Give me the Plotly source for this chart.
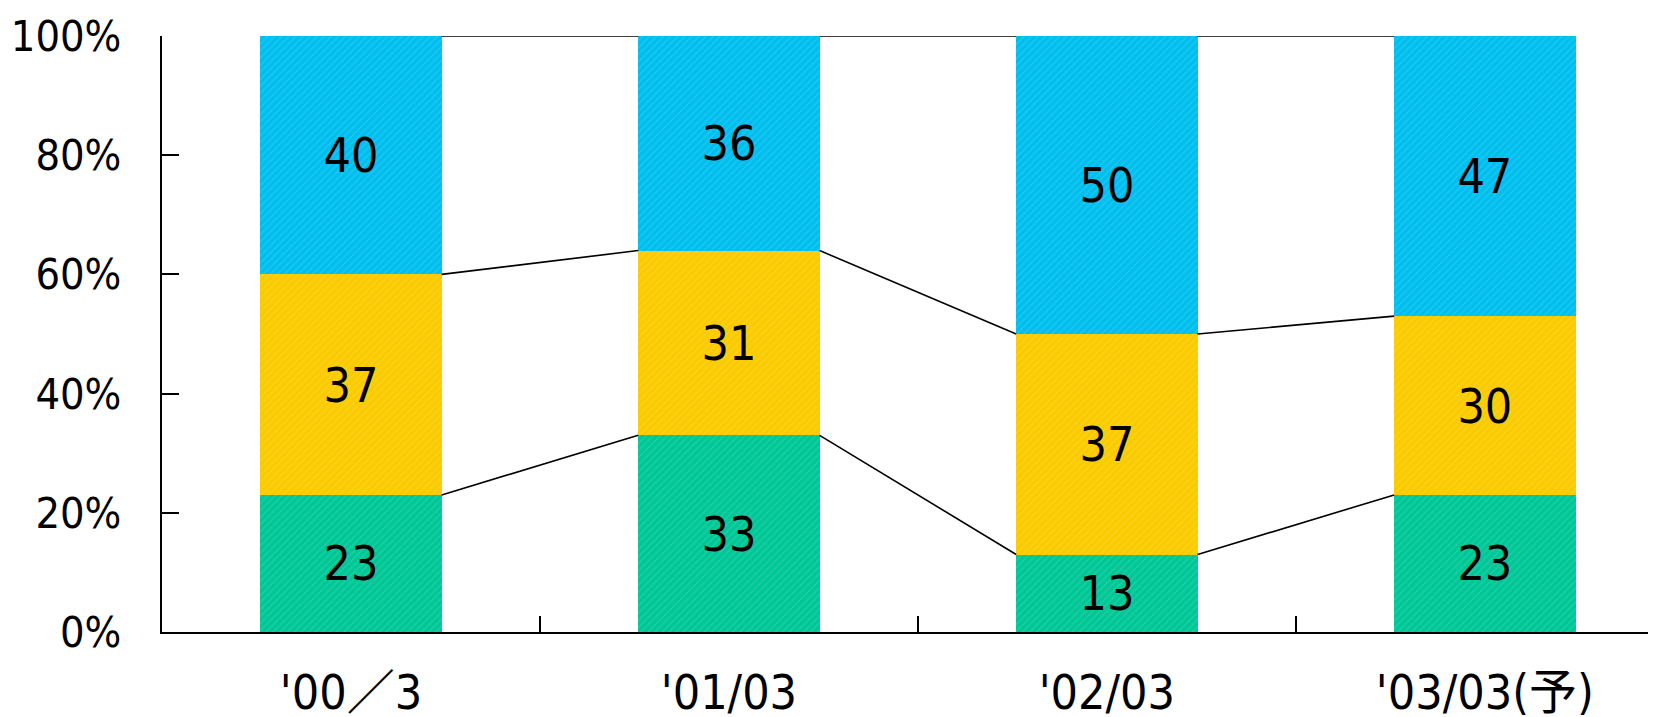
import plotly.graph_objects as go

categories = ["'00／3", "'01/03", "'02/03", "'03/03(予)"]
green_vals = [23, 33, 13, 23]
yellow_vals = [37, 31, 37, 30]
blue_vals = [40, 36, 50, 47]
y_ticks = [0, 20, 40, 60, 80, 100]
y_tick_text = ["0%", "20%", "40%", "60%", "80%", "100%"]

FONT = "Liberation Sans Narrow, Noto Sans Condensed, DejaVu Sans Condensed, Liberation Sans, Noto Sans CJK JP, sans-serif"
FS = 48
FS_Y = 43
BAR_W = 0.48

series = [
    ("green", green_vals, "#00C796"),
    ("yellow", yellow_vals, "#FACB00"),
    ("blue", blue_vals, "#00BFEE"),
]

fig = go.Figure()
xs = list(range(len(categories)))
boundaries = [x + 0.5 for x in xs[:-1]]

for name, vals, col in series:
    fig.add_trace(go.Bar(
        x=xs, y=vals, name=name, width=BAR_W,
        marker=dict(color=col, line=dict(width=0),
                    pattern=dict(shape="/", fgcolor="rgba(255,255,255,0.35)", size=5, solidity=0.18)),
        text=[str(v) for v in vals], textposition="inside", insidetextanchor="middle",
        textfont=dict(family=FONT, size=FS, color="black"),
        constraintext="none", showlegend=False, hoverinfo="skip",
    ))

# series connector lines between cumulative boundaries
cum = [0] * len(categories)
for name, vals, col in series:
    cum = [c + v for c, v in zip(cum, vals)]
    for i in range(len(categories) - 1):
        fig.add_trace(go.Scatter(
            x=[xs[i] + BAR_W / 2, xs[i + 1] - BAR_W / 2],
            y=[cum[i], cum[i + 1]], mode="lines",
            line=dict(color="black", width=1.6), showlegend=False, hoverinfo="skip",
        ))

fig.update_layout(
    barmode="stack", width=1656, height=717,
    margin=dict(l=154, r=0, t=28, b=93, autoexpand=False),
    plot_bgcolor="white", paper_bgcolor="white",
    uniformtext=dict(minsize=FS, mode="show"),
    font=dict(family=FONT, size=FS, color="black"),
)
fig.update_xaxes(
    range=[-0.5, 3.474], tickmode="array", tickvals=xs, ticktext=categories,
    ticks="", automargin=False, ticklabeloverflow="allow",
    minor=dict(tickmode="array", tickvals=boundaries, ticks="inside", ticklen=16,
               tickwidth=2, tickcolor="black", showgrid=False),
    showline=True, linecolor="black", linewidth=2, showgrid=False, zeroline=False,
    ticklabelstandoff=17, tickfont=dict(family=FONT, size=FS, color="black"),
)
fig.update_yaxes(
    range=[0, 100], tickmode="array", tickvals=y_ticks, ticktext=y_tick_text,
    ticks="inside", ticklen=17, tickwidth=2, tickcolor="black", automargin=False,
    ticklabeloverflow="allow",
    showline=True, linecolor="black", linewidth=2, showgrid=False, zeroline=False,
    ticklabelstandoff=30, tickfont=dict(family=FONT, size=FS_Y, color="black"),
)

fig.write_html("out.html")
